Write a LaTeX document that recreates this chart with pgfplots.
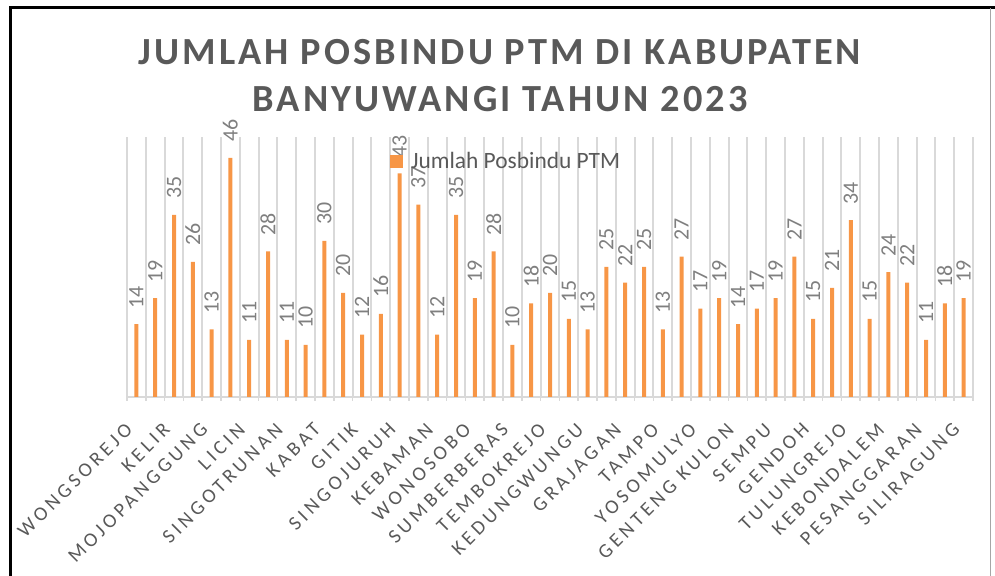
\documentclass[border=0pt]{standalone}
\usepackage{fontspec}
\setmainfont{Carlito}
\newfontfamily\spacedfont[LetterSpace=19]{Carlito}
\newfontfamily\titlefont[LetterSpace=8]{Carlito}
\usepackage{pgfplots}
\pgfplotsset{compat=1.18}
\definecolor{barorange}{HTML}{F79646}
\definecolor{txtgray}{HTML}{595959}
\definecolor{lblgray}{HTML}{7F7F7F}
\definecolor{gridgray}{HTML}{D9D9D9}
\begin{document}
\begin{tikzpicture}[x=1bp,y=1bp]
\useasboundingbox (0,0) rectangle (995,576);
\begin{axis}[
 at={(127bp,179bp)}, anchor=south west,
 width=846bp, height=260bp, scale only axis,
 xmin=-0.5, xmax=44.5, ymin=0, ymax=50,
 axis x line=bottom, axis y line=none,
 x axis line style={-, draw=gridgray, line width=2bp},
 ybar, bar width=4bp, bar shift=0pt,
 /pgf/number format/assume math mode=true,
 xtick={0,2,...,44},
 xticklabels={WONGSOREJO,KELIR,MOJOPANGGUNG,LICIN,SINGOTRUNAN,KABAT,GITIK,SINGOJURUH,KEBAMAN,WONOSOBO,SUMBERBERAS,TEMBOKREJO,KEDUNGWUNGU,GRAJAGAN,TAMPO,YOSOMULYO,GENTENG KULON,SEMPU,GENDOH,TULUNGREJO,KEBONDALEM,PESANGGARAN,SILIRAGUNG},
 major tick length=0pt,
 minor xtick={-0.5,0.5,...,44.5},
 minor tick length=4bp,
 tick align=outside,
 minor tick style={draw=gridgray, line width=1.5bp},
 xminorgrids, minor grid style={draw=gridgray, line width=2bp},
 ytick=\empty,
 xticklabel style={font=\spacedfont\fontsize{20}{24}\selectfont, text=txtgray, xshift=-5bp, yshift=-27bp, rotate=45, anchor=east},
 nodes near coords,
 nodes near coords style={font=\fontsize{22}{26}\selectfont, text=lblgray, rotate=90, anchor=west, inner sep=0pt, outer xsep=16bp},
 legend style={at={(axis description cs:0.311,0.906)}, anchor=west, draw=none, fill=none, inner sep=0pt, outer sep=0pt, font=\fontsize{23.5}{28}\selectfont, text=txtgray, nodes={inner sep=0pt}},
 legend image code/.code={\fill[barorange] (0bp,-6.5bp) rectangle (13bp,6.5bp); \path (21bp,0bp);},
]
\addplot[fill=barorange, draw=none] coordinates {
(0,14) (1,19) (2,35) (3,26) (4,13) (5,46) (6,11) (7,28) (8,11) (9,10)
(10,30) (11,20) (12,12) (13,16) (14,43) (15,37) (16,12) (17,35) (18,19) (19,28)
(20,10) (21,18) (22,20) (23,15) (24,13) (25,25) (26,22) (27,25) (28,13) (29,27)
(30,17) (31,19) (32,14) (33,17) (34,19) (35,27) (36,15) (37,21) (38,34) (39,15)
(40,24) (41,22) (42,11) (43,18) (44,19)};
\addlegendentry{Jumlah Posbindu PTM}
\end{axis}
\node[font=\titlefont\bfseries\fontsize{38.5}{46}\selectfont, text=txtgray, anchor=base] at (500,511) {JUMLAH POSBINDU PTM DI KABUPATEN};
\node[font=\titlefont\bfseries\fontsize{38.5}{46}\selectfont, text=txtgray, anchor=base] at (500,464) {BANYUWANGI TAHUN 2023};
\draw[black, line width=3bp] (10,0) -- (10,568) -- (995,568);
\draw[gray!70, line width=1bp] (990,568) -- (990,0);
\end{tikzpicture}
\end{document}
